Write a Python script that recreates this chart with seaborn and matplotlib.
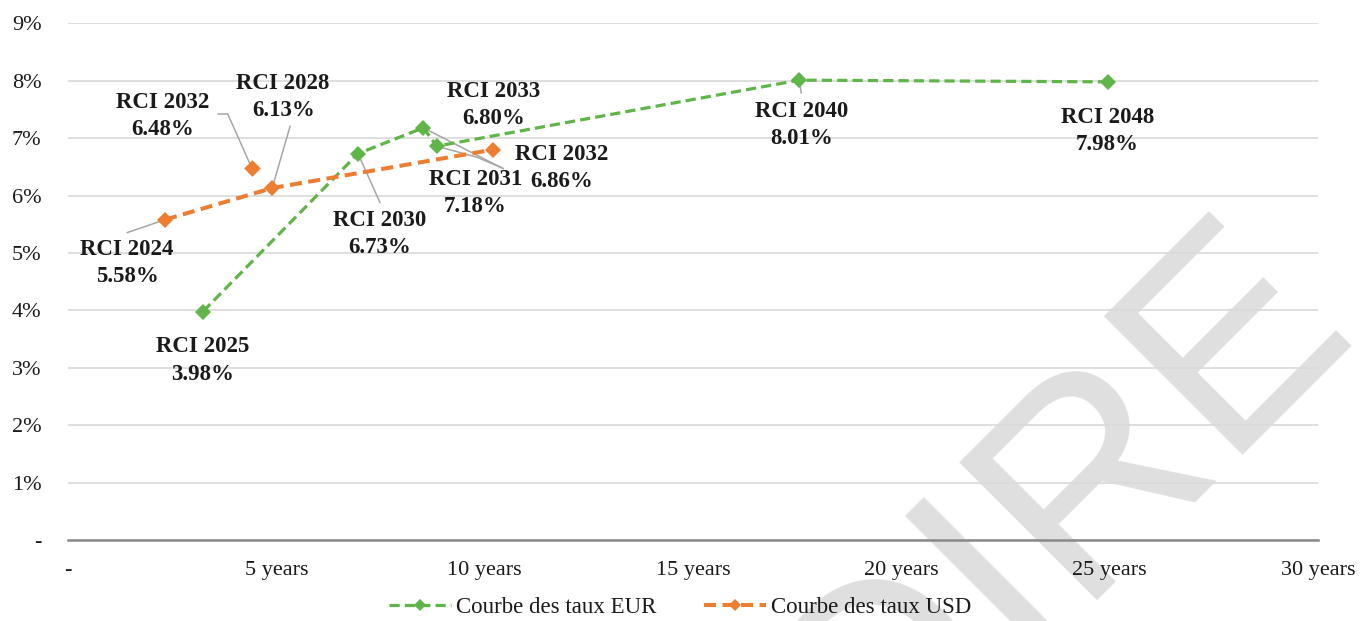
import numpy as np
import pandas as pd
import matplotlib
matplotlib.use("Agg")
import matplotlib.pyplot as plt
from matplotlib.lines import Line2D
import seaborn as sns

# ---------------- data ----------------
eur_names = ["RCI 2025", "RCI 2030", "RCI 2031", "RCI 2032", "RCI 2040", "RCI 2048"]
eur_maturity = [3.24, 6.96, 8.53, 8.85, 17.55, 24.97]
eur_rate = [3.98, 6.73, 7.18, 6.86, 8.01, 7.98]

usd_names = ["RCI 2024", "RCI 2028", "RCI 2033"]
usd_maturity = [2.33, 4.90, 10.21]
usd_rate = [5.58, 6.13, 6.80]

usd_extra_names = ["RCI 2032"]
usd_extra_maturity = [4.41]
usd_extra_rate = [6.48]

x_ticks = [0, 5, 10, 15, 20, 25, 30]
x_ticklabels = ["-", "5 years", "10 years", "15 years", "20 years", "25 years", "30 years"]
y_ticks = [0, 1, 2, 3, 4, 5, 6, 7, 8, 9]
y_ticklabels = ["-", "1%", "2%", "3%", "4%", "5%", "6%", "7%", "8%", "9%"]

series_labels = ["Courbe des taux EUR", "Courbe des taux USD"]

# displayed label texts (as shown on chart)
eur_label_text = ["RCI 2025\n3.98%", "RCI 2030\n6.73%", "RCI 2031\n7.18%",
                  "RCI 2032\n6.86%", "RCI 2040\n8.01%", "RCI 2048\n7.98%"]
usd_label_text = ["RCI 2024\n5.58%", "RCI 2028\n6.13%", "RCI 2033\n6.80%"]
usd_extra_label_text = ["RCI 2032\n6.48%"]

# ---------------- style ----------------
sns.set_theme(style="white")
plt.rcParams["font.family"] = ["Liberation Serif", "DejaVu Serif"]

GREEN = "#5fb548"
ORANGE = "#ED7D31"
LEADER = "#a6a6a6"
TXT = "#1a1a1a"

W, H = 1360, 621
fig = plt.figure(figsize=(W / 100, H / 100), dpi=100)
fig.patch.set_facecolor("white")
ax = fig.add_axes([68 / W, 1 - 540 / H, 1250 / W, (540 - 23.3) / H])
ax.set_facecolor("none")

# watermark
fig.text(1354 / W, 1 - 320 / H, "PROVISOIRE", rotation=45, rotation_mode="anchor",
         ha="right", va="baseline", fontsize=205, color="#dfdfdf",
         family="Liberation Sans", zorder=-10)

eur_df = pd.DataFrame({"maturity": eur_maturity, "rate": eur_rate})
usd_df = pd.DataFrame({"maturity": usd_maturity, "rate": usd_rate})
extra_df = pd.DataFrame({"maturity": usd_extra_maturity, "rate": usd_extra_rate})

sns.lineplot(data=eur_df, x="maturity", y="rate", ax=ax, sort=False, color=GREEN,
             lw=2.3, linestyle=(0, (3.2, 1.6)), marker="D", markersize=8.5,
             markeredgewidth=0, markerfacecolor=GREEN, zorder=4, legend=False)
sns.lineplot(data=usd_df, x="maturity", y="rate", ax=ax, sort=False, color=ORANGE,
             lw=2.9, linestyle=(0, (3.0, 1.6)), marker="D", markersize=8.5,
             markeredgewidth=0, markerfacecolor=ORANGE, zorder=4, legend=False)
sns.scatterplot(data=extra_df, x="maturity", y="rate", ax=ax, color=ORANGE,
                marker="D", s=72, linewidth=0, zorder=4, legend=False)

ax.set_xlim(0, 30)
ax.set_ylim(0, 9)
ax.set_xticks(x_ticks)
ax.set_xticklabels(x_ticklabels)
ax.set_yticks(y_ticks)
ax.set_yticklabels(y_ticklabels)
ax.set_xlabel("")
ax.set_ylabel("")
ax.tick_params(axis="x", length=0, pad=15, labelsize=16, labelcolor=TXT)
ax.tick_params(axis="y", length=0, pad=19, labelsize=16, labelcolor=TXT)
ax.yaxis.grid(True, color="#d9d9d9", lw=1.2)
ax.xaxis.grid(False)
for s in ["top", "right", "left"]:
    ax.spines[s].set_visible(False)
ax.spines["bottom"].set_color("#898989")
ax.spines["bottom"].set_linewidth(1.8)
ax.spines["bottom"].set_zorder(3)

# ---------------- data labels ----------------
# label centre offsets (image pixels: +x right, +y down)
eur_lab_off = [(0, 49), (22, 80), (52, 65), (125, 22), (2, 45), (-1, 49)]
usd_lab_off = [(-38, 43), (11, -91), (0, -45)]
extra_lab_off = [(-89, -52)]

# leader polylines (image pixel offsets from the point), None if absent
eur_leader = [None, [(22, 49), (0, 0)], [(80, 41), (0, 0)], [(66, 22), (40, 11), (0, 0)],
              [(2, 13), (0, 0)], None]
usd_leader = [[(-38, 13), (0, 0)], [(18, -62), (0, 0)], None]
extra_leader = [[(-34, -54), (-24, -54), (0, 0)]]

lab_kw = dict(ha="center", va="center", fontsize=16.5, fontweight="bold",
              color=TXT, linespacing=1.38, textcoords="offset pixels", zorder=6)


def place(xs, ys, texts, offs, leaders):
    for x, y, t, (dx, dy), ld in zip(xs, ys, texts, offs, leaders):
        ax.annotate(t, xy=(x, y), xycoords="data", xytext=(dx, -dy), **lab_kw)
        if ld is not None:
            px, py = ax.transData.transform((x, y))
            pts = np.array([(px + ox, py - oy) for ox, oy in ld])
            ax.add_line(Line2D(pts[:, 0], pts[:, 1], transform=None,
                               color=LEADER, lw=1.1, zorder=3.5))


place(eur_maturity, eur_rate, eur_label_text, eur_lab_off, eur_leader)
place(usd_maturity, usd_rate, usd_label_text, usd_lab_off, usd_leader)
place(usd_extra_maturity, usd_extra_rate, usd_extra_label_text, extra_lab_off, extra_leader)

# ---------------- legend ----------------
handles = [
    Line2D([], [], color=GREEN, lw=2.3, linestyle=(0, (3.2, 1.6)), marker="D",
           markersize=6, markeredgewidth=0),
    Line2D([], [], color=ORANGE, lw=2.9, linestyle=(0, (3.0, 1.6)), marker="D",
           markersize=6, markeredgewidth=0),
]
fig.legend(handles, series_labels, loc="center", bbox_to_anchor=(0.5, 1 - 607 / H),
           ncol=2, frameon=False, fontsize=16.5, handlelength=2.7,
           handletextpad=0.2, columnspacing=2.1, labelcolor=TXT)

fig.savefig("out.png", dpi=100)
